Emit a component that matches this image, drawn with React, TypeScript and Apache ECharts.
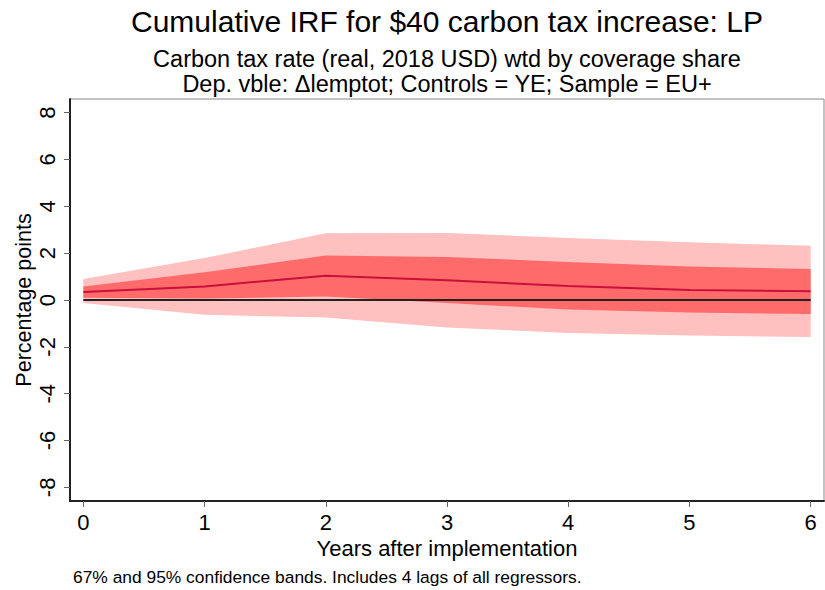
import React, { useEffect, useRef } from "react";
import * as echarts from "echarts";

const years = [0, 1, 2, 3, 4, 5, 6];
const estimate = [0.34, 0.58, 1.04, 0.84, 0.6, 0.43, 0.37];
const lower67 = [0.1, 0.06, 0.15, -0.13, -0.41, -0.53, -0.6];
const upper67 = [0.58, 1.18, 1.9, 1.84, 1.62, 1.43, 1.32];
const lower95 = [-0.13, -0.63, -0.75, -1.17, -1.41, -1.52, -1.58];
const upper95 = [0.9, 1.79, 2.85, 2.86, 2.65, 2.46, 2.32];
const zeroLine = [0, 0, 0, 0, 0, 0, 0];
const xTicks = [0, 1, 2, 3, 4, 5, 6];
const yTicks = [-8, -6, -4, -2, 0, 2, 4, 6, 8];

const title = "Cumulative IRF for $40 carbon tax increase: LP";
const subtitle1 = "Carbon tax rate (real, 2018 USD) wtd by coverage share";
const subtitle2 = "Dep. vble: \u0394lemptot; Controls = YE; Sample = EU+";
const note = "67% and 95% confidence bands. Includes 4 lags of all regressors.";
const xName = "Years after implementation";
const yName = "Percentage points";

const FONT = "'Liberation Sans', Arial, sans-serif";

export default function App() {
  const ref = useRef<HTMLDivElement>(null);
  useEffect(() => {
    if (!ref.current) return;
    const chart = echarts.init(ref.current, undefined, { renderer: "svg" });
    const pairs = (ys: number[]) => years.map((x, i) => [x, ys[i]]);
    const band = (low: number[], high: number[], color: string) => ({
      type: "custom",
      silent: true,
      data: years.map((x, i) => [x, low[i], high[i]]),
      encode: { x: 0, y: [1, 2] },
      renderItem: (params: any, api: any) => {
        if (params.dataIndex !== 0) return null;
        const top = years.map((x, i) => api.coord([x, high[i]]));
        const bottom = years.map((x, i) => api.coord([x, low[i]])).reverse();
        return {
          type: "polygon",
          shape: { points: top.concat(bottom) },
          style: { fill: color, stroke: "none" },
        };
      },
    });
    chart.setOption({
      animation: false,
      textStyle: { fontFamily: FONT },
      grid: {
        left: 70,
        top: 99,
        right: 1,
        bottom: 89,
        containLabel: false,
        outerBoundsMode: "none",
        show: true,
        borderColor: "#888",
        borderWidth: 1,
        backgroundColor: "#fff",
      },
      xAxis: {
        type: "value",
        min: -0.11,
        max: 6.11,
        name: xName,
        nameLocation: "middle",
        nameGap: 36,
        nameMoveOverlap: false,
        nameTextStyle: { fontSize: 22, color: "#000", fontFamily: FONT },
        axisLine: { show: true, onZero: false, lineStyle: { color: "#222", width: 2 } },
        axisTick: { show: true, customValues: xTicks, length: 6, lineStyle: { color: "#666" } },
        axisLabel: {
          customValues: xTicks,
          fontSize: 22,
          color: "#000",
          margin: 10,
          fontFamily: FONT,
        },
        splitLine: { show: false },
      },
      yAxis: {
        type: "value",
        min: -8.58,
        max: 8.58,
        name: yName,
        nameLocation: "middle",
        nameGap: 35,
        nameMoveOverlap: false,
        nameRotate: 90,
        nameTextStyle: { fontSize: 21.5, color: "#000", fontFamily: FONT },
        axisLine: { show: true, onZero: false, lineStyle: { color: "#222", width: 2 } },
        axisTick: { show: true, customValues: yTicks, length: 6, lineStyle: { color: "#666" } },
        axisLabel: {
          customValues: yTicks,
          rotate: 90,
          fontSize: 22,
          color: "#000",
          margin: 12,
          fontFamily: FONT,
        },
        splitLine: { show: false },
      },
      series: [
        band(lower95, upper95, "#ffc0c0"),
        band(lower67, upper67, "#ff6b6b"),
        {
          type: "line",
          data: pairs(zeroLine),
          symbol: "none",
          lineStyle: { color: "#222", width: 2 },
          silent: true,
        },
        {
          type: "line",
          data: pairs(estimate),
          symbol: "none",
          lineStyle: { color: "#c8103c", width: 2 },
          silent: true,
        },
      ],
      graphic: [
        {
          type: "text",
          x: 447,
          y: 21,
          style: {
            text: title,
            fontSize: 30,
            fontFamily: FONT,
            fill: "#000",
            align: "center",
            verticalAlign: "middle",
          },
        },
        {
          type: "text",
          x: 447,
          y: 59,
          style: {
            text: subtitle1,
            fontSize: 23.5,
            fontFamily: FONT,
            fill: "#000",
            align: "center",
            verticalAlign: "middle",
          },
        },
        {
          type: "text",
          x: 447,
          y: 84,
          style: {
            text: subtitle2,
            fontSize: 23.5,
            fontFamily: FONT,
            fill: "#000",
            align: "center",
            verticalAlign: "middle",
          },
        },
        {
          type: "text",
          x: 73,
          y: 577,
          style: {
            text: note,
            fontSize: 17.4,
            fontFamily: FONT,
            fill: "#000",
            align: "left",
            verticalAlign: "middle",
          },
        },
      ],
    });
    return () => chart.dispose();
  }, []);
  return (
    <div
      ref={ref}
      style={{ position: "fixed", left: 0, top: 0, width: 825, height: 590, background: "#fff" }}
    />
  );
}
